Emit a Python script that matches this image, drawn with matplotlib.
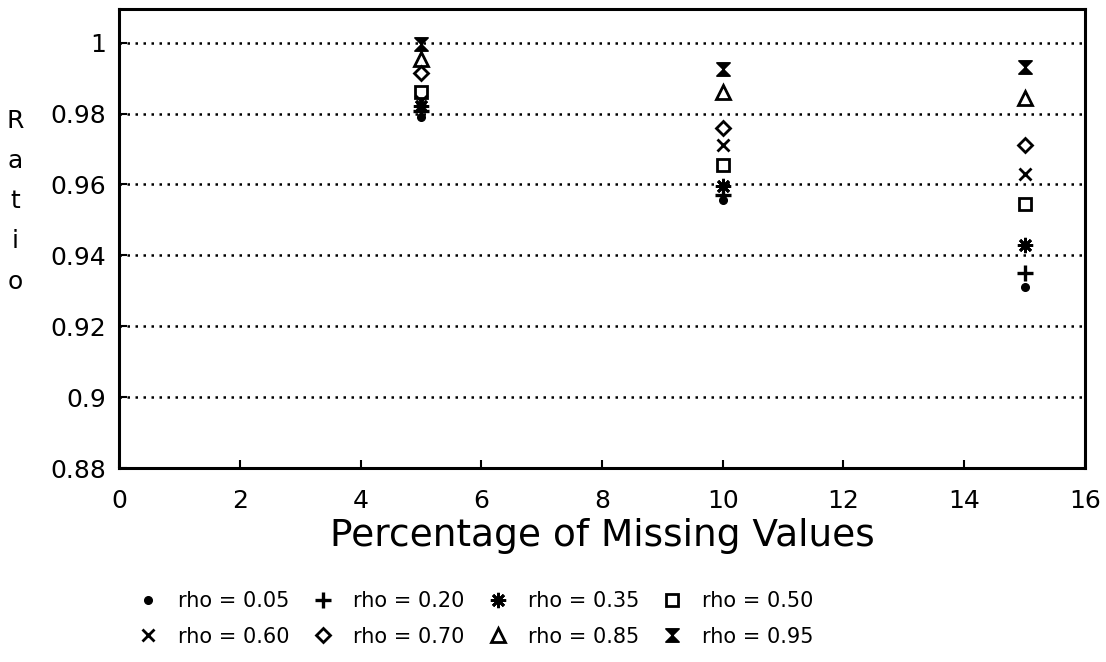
import numpy as np
import matplotlib.pyplot as plt
from matplotlib.path import Path

# Data
pct = [5, 10, 15]  # Percentage of missing values
rho_labels = ['rho = 0.05', 'rho = 0.20', 'rho = 0.35', 'rho = 0.50',
              'rho = 0.60', 'rho = 0.70', 'rho = 0.85', 'rho = 0.95']
ratio_05 = [0.979, 0.9555, 0.931]
ratio_20 = [0.9808, 0.957, 0.935]
ratio_35 = [0.982, 0.9595, 0.943]
ratio_50 = [0.986, 0.9656, 0.9545]
ratio_60 = [0.9835, 0.971, 0.963]
ratio_70 = [0.9915, 0.976, 0.971]
ratio_85 = [0.9955, 0.986, 0.9845]
ratio_95 = [0.9995, 0.9925, 0.993]
series = [ratio_05, ratio_20, ratio_35, ratio_50, ratio_60, ratio_70, ratio_85, ratio_95]

yticks = [0.88, 0.9, 0.92, 0.94, 0.96, 0.98, 1.0]
ytick_labels = ['0.88', '0.9', '0.92', '0.94', '0.96', '0.98', '1']
xticks = [0, 2, 4, 6, 8, 10, 12, 14, 16]

# Markers
asterisk = (8, 2, 0)
hourglass = Path([(-1, 1), (1, 1), (-1, -1), (1, -1), (-1, 1)],
                 [Path.MOVETO, Path.LINETO, Path.LINETO, Path.LINETO, Path.CLOSEPOLY])
styles = [
    dict(marker='o', ms=5.5, mfc='black'),
    dict(marker='+', ms=12, mew=2.4),
    dict(marker=asterisk, ms=11, mew=2.0),
    dict(marker='s', ms=8, mfc='none', mew=2.0),
    dict(marker='x', ms=9, mew=2.0),
    dict(marker='D', ms=7, mfc='none', mew=2.0),
    dict(marker='^', ms=9.5, mfc='none', mew=2.0),
    dict(marker=hourglass, ms=9.5, mfc='black', mew=1.2),
]

plt.rcParams['font.family'] = 'DejaVu Sans'
fig = plt.figure(figsize=(11.06, 6.62), dpi=100)
ax = fig.add_axes([0.1076, 0.293, 0.8734, 0.6934])

handles = []
for vals, st, lab in zip(series, styles, rho_labels):
    h, = ax.plot(pct, vals, linestyle='none', color='black', label=lab, **st)
    handles.append(h)

ax.set_xlim(0, 16)
ax.set_ylim(0.88, 1.0095)
ax.set_xticks(xticks)
ax.set_yticks(yticks)
ax.set_yticklabels(ytick_labels)
ax.tick_params(direction='in', length=6, width=1.5, labelsize=18, pad=9)
ax.tick_params(axis='x', pad=15)
ax.yaxis.grid(True, color='black', linestyle=(0, (1, 2.2)), linewidth=1.8)
for s in ax.spines.values():
    s.set_linewidth(2.2)

ax.set_xlabel('Percentage of Missing Values', fontsize=27, labelpad=4)
fig.text(15 / 1106, 0.696, 'R\na\nt\ni\no', ha='center', va='center',
         fontsize=18, linespacing=1.85)

# Legend, filled row by row
order = [0, 4, 1, 5, 2, 6, 3, 7]
fig.legend([handles[i] for i in order], [rho_labels[i] for i in order],
           loc='upper left', bbox_to_anchor=(0.1244, 0.107), ncol=4,
           frameon=False, fontsize=15, handlelength=1, handletextpad=0.94,
           columnspacing=1.1, labelspacing=0.75, borderpad=0, borderaxespad=0)

plt.savefig('out.png', dpi=100)
